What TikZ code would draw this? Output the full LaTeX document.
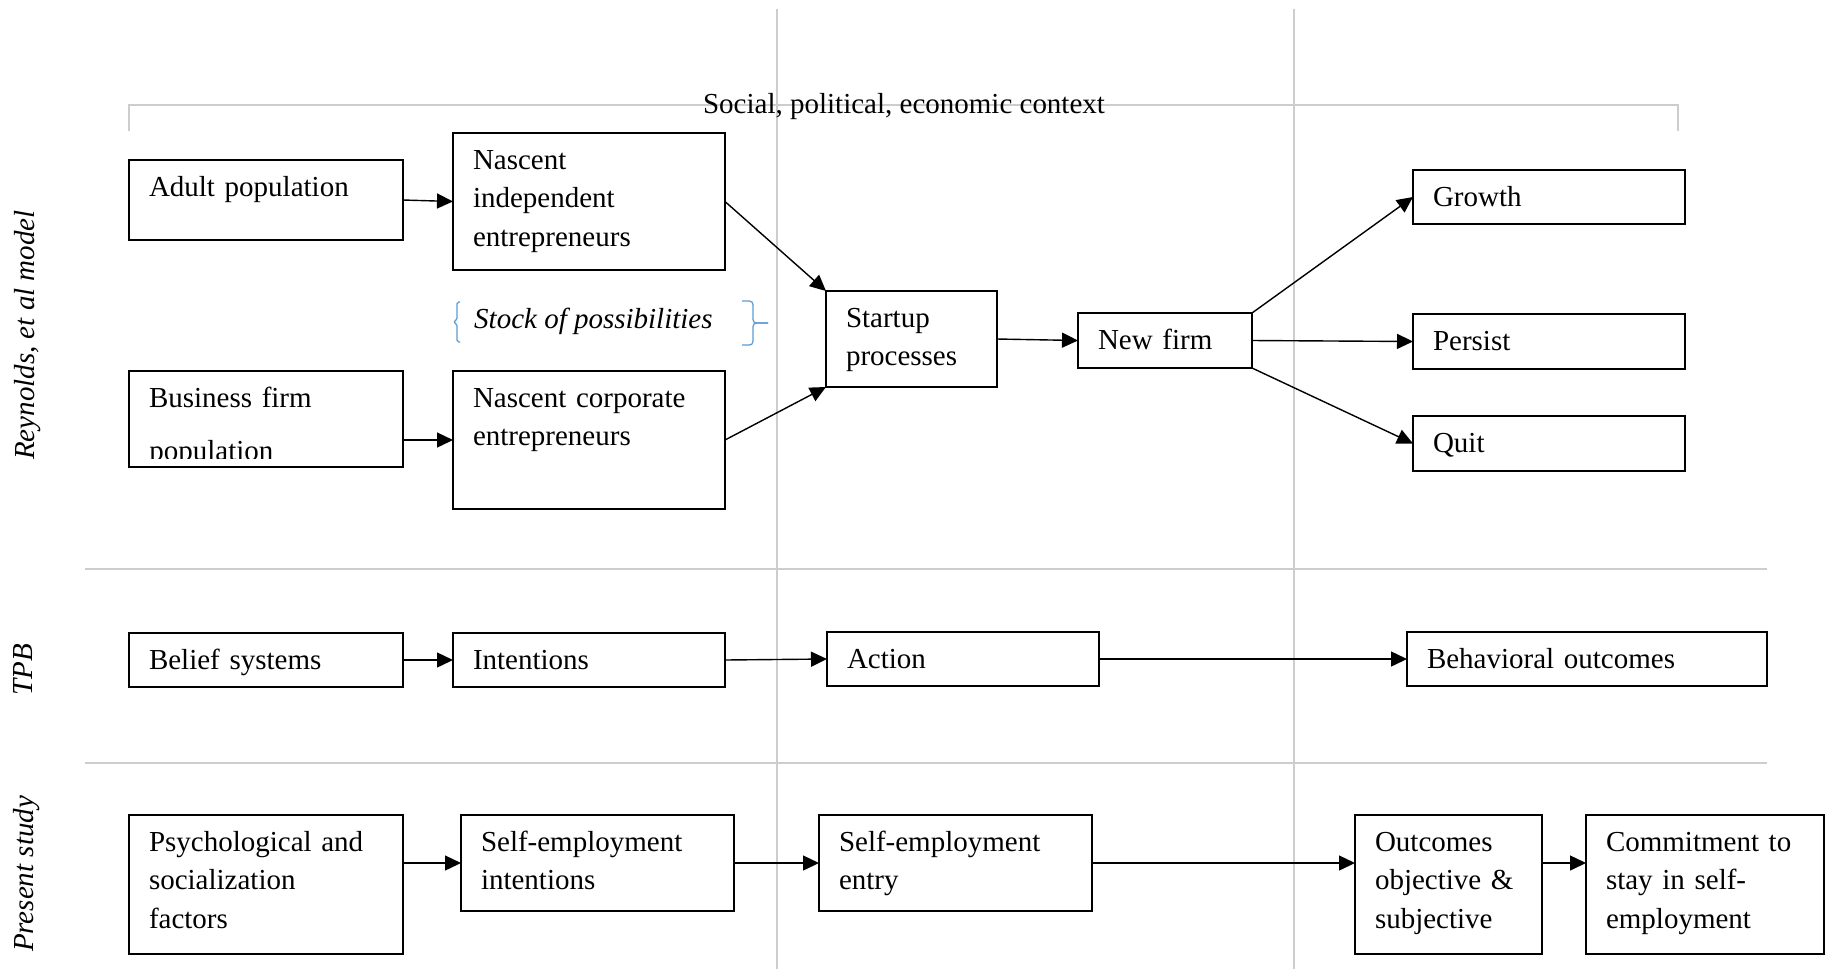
\documentclass[tikz,border=0pt]{standalone}
\usepackage{fontspec}
\setmainfont{Liberation Serif}
\usetikzlibrary{arrows.meta}
\definecolor{linecol}{RGB}{205,205,205}
\definecolor{bracecol}{RGB}{91,155,213}
\newcommand{\boxfont}{\fontsize{16.5pt}{22.1pt}\selectfont}

\begin{document}
\begin{tikzpicture}[x=0.2mm, y=-0.2mm, font=\boxfont,
    blk/.style 2 args={draw, line width=0.45mm, anchor=north west, align=left,
        outer sep=0pt, inner xsep=4mm, inner ysep=0pt,
        text height=7.2mm, text width=#1, text depth=#2},
    arr/.style={-{Triangle[length=3.2mm, width=3mm]}, line width=0.28mm},
    grid/.style={linecol, line width=0.3mm},
    side/.style={rotate=90, anchor=base, font=\boxfont\itshape}]

    \useasboundingbox (0,0) rectangle (1826,969);

    % Draw the grey section lines
    \draw[grid] (777,9) -- (777,969);
    \draw[grid] (1294,9) -- (1294,969);
    \draw[grid] (85,569) -- (1767,569);
    \draw[grid] (85,763) -- (1767,763);

    % Context bracket over the top row
    \draw[grid] (129,131) -- (129,105) -- (1678,105) -- (1678,131);
    \node[anchor=base] (ctx) at (904,113) {Social, political, economic context};

    % Row labels
    \node[side] (rey) at (35,335) {Reynolds, et al model};
    \node[side] (tpb) at (32,670) {TPB};
    \node[side] (pres) at (33,874) {Present study};

    % Reynolds et al model
    \node[blk={46.8mm}{8.8mm}] (ap) at (129,160) {Adult population};
    \node[blk={46.4mm}{20.2mm}] (ni) at (453,133) {Nascent\\independent\\entrepreneurs};
    \node[blk={46.8mm}{12mm}] (bf) at (129,371) {Business firm};
    \begin{scope}
        \clip (129,371) rectangle (403,458);
        \node[anchor=base west, inner sep=0pt] (bfpop) at (149,460) {population};
    \end{scope}
    \node[blk={46.4mm}{20.4mm}] (nc) at (453,371) {Nascent corporate\\entrepreneurs};
    \node[blk={26.2mm}{12mm}] (sp) at (826,291) {Startup\\processes};
    \node[blk={26.8mm}{3.8mm}] (nf) at (1078,313) {New firm};
    \node[blk={46.4mm}{3.6mm}] (gr) at (1413,170) {Growth};
    \node[blk={46.4mm}{3.8mm}] (ps) at (1413,314) {Persist};
    \node[blk={46.4mm}{3.8mm}] (qt) at (1413,416) {Quit};

    \node[anchor=base west, font=\boxfont\itshape] (stock) at (468,328) {Stock of possibilities};
    \draw[bracecol, line width=0.25mm, rounded corners=1pt]
        (460,302) -- (457,302) -- (457,320) -- (453,322) -- (457,324) -- (457,342) -- (460,342);
    \draw[bracecol, line width=0.25mm, rounded corners=2pt]
        (742,301) -- (753,301) -- (753,323) -- (768,323);
    \draw[bracecol, line width=0.25mm, rounded corners=2pt]
        (768,323) -- (753,323) -- (753,345) -- (742,345);

    \draw[arr] (ap.east) -- (ni.west);
    \draw[arr] (bf.east |- nc.west) -- (nc.west);
    \draw[arr] (ni.east) -- (sp.north west);
    \draw[arr] (nc.east) -- (sp.south west);
    \draw[arr] (sp.east) -- (nf.west);
    \draw[arr] (nf.north east) -- (gr.west);
    \draw[arr] (nf.east) -- (ps.west);
    \draw[arr] (nf.south east) -- (qt.west);

    % TPB
    \node[blk={46.8mm}{3.6mm}] (bs) at (129,633) {Belief systems};
    \node[blk={46.4mm}{3.6mm}] (in) at (453,633) {Intentions};
    \node[blk={46.4mm}{3.6mm}] (ac) at (827,632) {Action};
    \node[blk={64mm}{3.6mm}] (bo) at (1407,632) {Behavioral outcomes};

    \draw[arr] (bs.east) -- (in.west);
    \draw[arr] (in.east) -- (ac.west);
    \draw[arr] (ac.east) -- (bo.west);

    % Present study
    \node[blk={46.8mm}{20.6mm}] (pf) at (129,815) {Psychological and\\socialization\\factors};
    \node[blk={46.6mm}{12mm}] (si) at (461,815) {Self-employment\\intentions};
    \node[blk={46.6mm}{12mm}] (se) at (819,815) {Self-employment\\entry};
    \node[blk={29.4mm}{20.6mm}] (oc) at (1355,815) {Outcomes\\objective \&\\subjective};
    \node[blk={39.6mm}{20.6mm}] (cm) at (1586,815) {Commitment to\\stay in self-\\employment};

    \draw[arr] (pf.east |- si.west) -- (si.west);
    \draw[arr] (si.east) -- (se.west);
    \draw[arr] (se.east) -- (se.east -| oc.west);
    \draw[arr] (oc.east |- se.east) -- (cm.west |- se.east);

\end{tikzpicture}
\end{document}
